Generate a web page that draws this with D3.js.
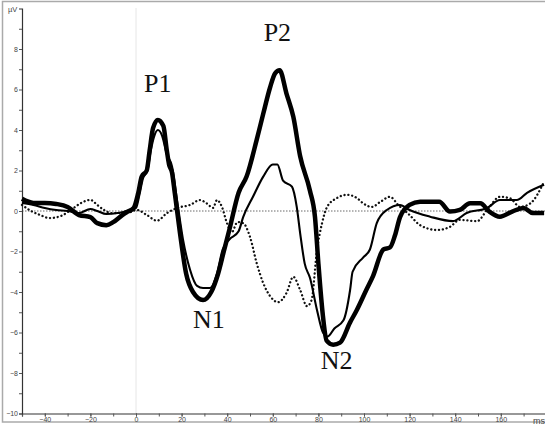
<!DOCTYPE html>
<html><head><meta charset="utf-8">
<script src="https://cdn.jsdelivr.net/npm/d3@7"></script>
<style>body{margin:0;background:#fff}svg{display:block}</style>
</head><body>
<script>
// Thick curve (time ms, amplitude µV)
const thickT = [-50,-45,-40,-35,-30,-25,-20,-17,-13,-10,-6,-4,-1,1,2.5,4.7,6,7.5,9.6,12,13.5,14.5,15.8,17,19.3,22,25,29.4,33,36,38.5,41,45,48.5,52.9,55.8,58.8,61,63,66,69,72,76.3,78.5,80,82,83.6,86.5,89.5,93.9,96.8,101,104,108.5,111.4,113.6,115.8,120,124.6,133,137.7,142,146.5,151,155,159.6,165,170,174,179];
const thickV = [0.6,0.4,0.4,0.35,0.2,-0.2,-0.3,-0.6,-0.7,-0.55,-0.2,-0.05,0.15,0.9,1.7,2.0,3.0,4.1,4.5,4.2,3.0,2.3,1.9,0.9,-1.1,-3.1,-4.0,-4.4,-4.0,-3.1,-2.0,-0.9,0.9,1.7,3.5,4.8,6.1,6.8,6.95,5.8,4.65,2.7,1.0,-0.3,-2.6,-5.2,-6.4,-6.6,-6.5,-5.5,-4.9,-3.9,-3.2,-1.9,-1.8,-1.2,-0.3,0.3,0.46,0.46,-0.03,0.05,0.38,0.38,-0.03,-0.28,-0.03,0.15,-0.1,-0.1];
// Thin curve
const thinT = [-50,-45,-40,-35,-30,-25,-20,-17,-13,-8,-4,0,1.5,3,5,6.5,8,9.6,11.5,13.5,15.8,18,20.6,23.7,26.8,29.4,32.5,35.5,38,41,45,47,51.3,55.8,60,62,64.5,68.4,70.5,72,74,76.3,79.4,82,84,87,91,93.9,95,99.6,102.6,105.6,110,115.8,120,129,139,145,154,159.6,167,171.5,179];
const thinV = [0.4,0.3,0.15,0.05,0.0,-0.1,0.1,0.0,-0.15,-0.1,0.0,0.15,0.8,1.6,2.0,3.0,3.7,4.0,3.7,2.8,2.2,0.54,-1.4,-2.9,-3.7,-3.8,-3.8,-3.1,-1.9,-1.4,-1.0,-0.3,0.7,1.7,2.3,2.3,1.5,1.2,0.2,-1.1,-2.6,-3.3,-4.9,-6.0,-6.2,-5.8,-5.4,-3.9,-3.0,-2.3,-1.9,-0.6,0.05,0.3,0.05,-0.28,-0.5,-0.1,0.15,0.54,0.54,0.9,1.3];
// Dotted curve
const dotT = [-50,-46,-42,-38,-33,-28,-24,-20,-17,-14,-11,-4,0.4,4.8,9.2,13.6,18,23.7,28,31,33.8,35.5,37.7,39.9,42,44.5,47,50,53,55.8,58.8,62.3,66,69,72,75,77,79.4,81.6,83.8,88,92.5,97,99.6,103.5,107,111.4,115,120,124.6,132,137.7,142,149.6,154,159.6,164,168.4,173,179];
const dotV = [0.3,0.0,-0.2,-0.35,-0.25,0.1,0.4,0.55,0.3,0.05,-0.1,-0.1,0.05,-0.2,-0.48,-0.1,0.15,0.3,0.54,0.38,0.15,0.54,0.2,-0.6,-1.05,-0.55,-0.6,-1.28,-2.6,-3.56,-4.2,-4.5,-4.05,-3.25,-3.9,-4.7,-4.4,-1.9,-0.6,0.2,0.63,0.8,0.63,0.38,0.2,0.44,0.7,0.3,-0.2,-0.7,-0.94,-0.78,-0.44,-0.5,0.05,0.7,0.63,0.2,0.38,1.45];

const xTicks = [-40,-20,0,20,40,60,80,100,120,140,160];
const yTicks = [-10,-8,-6,-4,-2,0,2,4,6,8];
const peakLabels = ["P1","P2","N1","N2"];
const peakT = [9.5,62,32,88];
const peakV = [5.9,8.4,-5.8,-7.8];

const W = 545, H = 428;
const svg = d3.select("body").append("svg").attr("width", W).attr("height", H);

// frame
svg.append("rect").attr("x",2.5).attr("y",1.5).attr("width",W+10).attr("height",420.5)
  .attr("fill","none").attr("stroke","#aaa").attr("stroke-width",1.5);

const x = d3.scaleLinear().domain([-50,180]).range([22, 22+230*2.28]);
const y = d3.scaleLinear().domain([-10,10]).range([413.5, 8.5]);

// zero lines
svg.append("line").attr("x1",x(0)).attr("x2",x(0)).attr("y1",y(10)).attr("y2",y(-10))
  .attr("stroke","#ccc").attr("stroke-width",1).attr("stroke-dasharray","1 1");
svg.append("line").attr("x1",x(-50)).attr("x2",W).attr("y1",y(0)).attr("y2",y(0))
  .attr("stroke","#444").attr("stroke-width",0.8).attr("stroke-dasharray","1.5 1.5");

// axes
const xAxisMinor = d3.axisBottom(x).tickValues(d3.range(-50,181,10)).tickSize(3).tickFormat("");
svg.append("g").attr("transform",`translate(0,${y(-10)})`).call(xAxisMinor)
  .call(g=>g.select(".domain").attr("stroke","#333").attr("stroke-width",1.2))
  .call(g=>g.selectAll(".tick line").attr("stroke","#555"));
const xAxis = d3.axisBottom(x).tickValues(xTicks).tickSize(3).tickPadding(1);
svg.append("g").attr("transform",`translate(0,${y(-10)})`).call(xAxis)
  .call(g=>g.select(".domain").remove())
  .call(g=>g.selectAll(".tick line").attr("stroke","#555"))
  .call(g=>g.selectAll("text").attr("font-size",7).attr("fill","#444").attr("font-family","Liberation Sans, Arial"));

const yAxisMinor = d3.axisLeft(y).tickValues(d3.range(-9,10,2)).tickSize(3).tickFormat("");
svg.append("g").attr("transform",`translate(${x(-50)},0)`).call(yAxisMinor)
  .call(g=>g.select(".domain").attr("stroke","#333").attr("stroke-width",1.2))
  .call(g=>g.selectAll(".tick line").attr("stroke","#555"));
const yAxis = d3.axisLeft(y).tickValues(yTicks).tickSize(3).tickPadding(1);
svg.append("g").attr("transform",`translate(${x(-50)},0)`).call(yAxis)
  .call(g=>g.select(".domain").remove())
  .call(g=>g.selectAll(".tick line").attr("stroke","#555"))
  .call(g=>g.selectAll("text").attr("font-size",7).attr("fill","#444").attr("font-family","Liberation Sans, Arial"));

svg.append("text").attr("x",8).attr("y",12).attr("font-size",7.5).attr("fill","#444")
  .attr("font-family","Liberation Sans, Arial").text("µV");
svg.append("text").attr("x",533).attr("y",424).attr("font-size",9).attr("fill","#444")
  .attr("font-family","Liberation Sans, Arial").text("ms");

const line = d3.line().x(d=>x(d[0])).y(d=>y(d[1])).curve(d3.curveMonotoneX);
const zip = (a,b)=>a.map((t,i)=>[t,b[i]]);

svg.append("path").datum(zip(dotT,dotV)).attr("d",line).attr("fill","none")
  .attr("stroke","#111").attr("stroke-width",2.3).attr("stroke-dasharray","0.1 3.8")
  .attr("stroke-linecap","round");
svg.append("path").datum(zip(thinT,thinV)).attr("d",line).attr("fill","none")
  .attr("stroke","#000").attr("stroke-width",2.1).attr("stroke-linejoin","round");
svg.append("path").datum(zip(thickT,thickV)).attr("d",line).attr("fill","none")
  .attr("stroke","#000").attr("stroke-width",4.5).attr("stroke-linejoin","round");

svg.selectAll("text.peak").data(peakLabels).enter().append("text").attr("class","peak")
  .attr("x",(d,i)=>x(peakT[i])).attr("y",(d,i)=>y(peakV[i]))
  .attr("text-anchor","middle").attr("font-family","Liberation Serif, Times New Roman, serif")
  .attr("font-size",26).attr("fill","#111").text(d=>d);
</script>
</body></html>
